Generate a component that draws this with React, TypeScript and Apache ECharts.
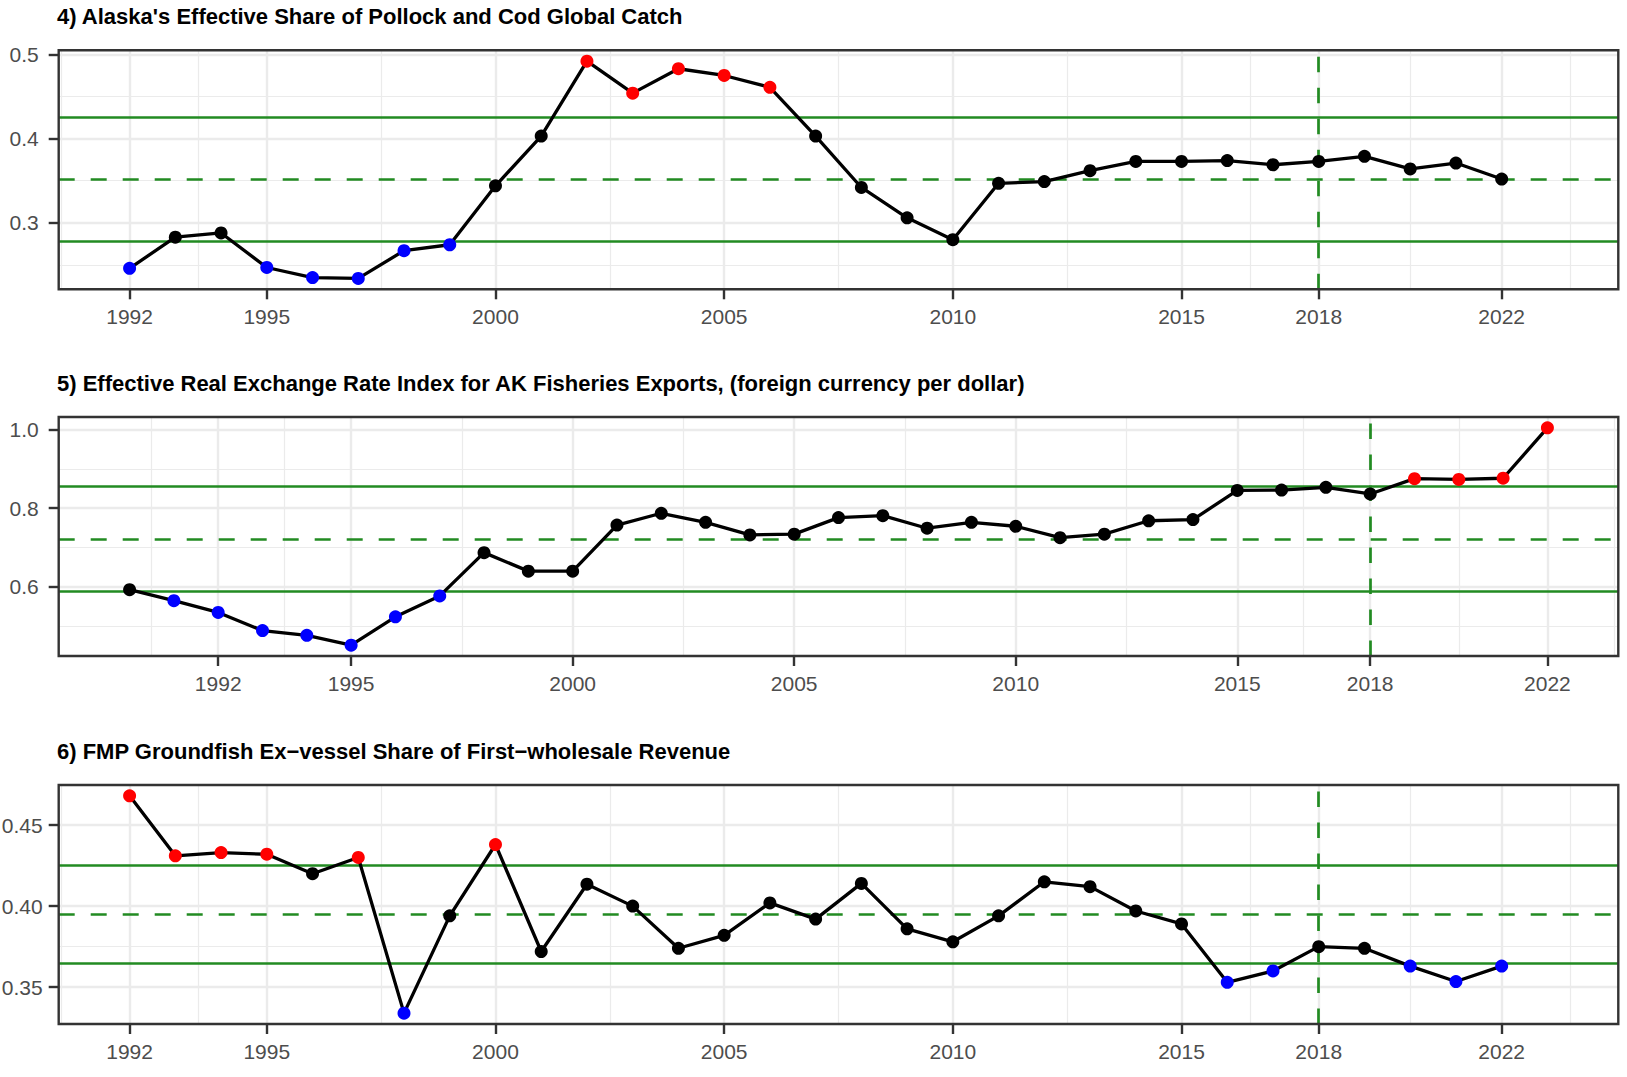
import React, { useEffect, useRef } from "react";
import * as echarts from "echarts";

// ---------------- data ----------------
const yearsA = [1992, 1993, 1994, 1995, 1996, 1997, 1998, 1999, 2000, 2001, 2002, 2003, 2004, 2005, 2006, 2007, 2008, 2009, 2010, 2011, 2012, 2013, 2014, 2015, 2016, 2017, 2018, 2019, 2020, 2021, 2022];
const yearsB = [1990, 1991, 1992, 1993, 1994, 1995, 1996, 1997, 1998, 1999, 2000, 2001, 2002, 2003, 2004, 2005, 2006, 2007, 2008, 2009, 2010, 2011, 2012, 2013, 2014, 2015, 2016, 2017, 2018, 2019, 2020, 2021, 2022];

const alaskaShare = [0.246, 0.283, 0.288, 0.247, 0.235, 0.234, 0.267, 0.274, 0.344, 0.403, 0.492, 0.454, 0.483, 0.475, 0.461, 0.403, 0.342, 0.306, 0.280, 0.347, 0.349, 0.362, 0.373, 0.373, 0.374, 0.369, 0.373, 0.379, 0.364, 0.371, 0.352];
const alaskaShareBands = [0.278, 0.352, 0.425]; // lower, mean, upper

const exchangeRate = [0.593, 0.565, 0.535, 0.489, 0.477, 0.452, 0.524, 0.577, 0.687, 0.640, 0.640, 0.757, 0.787, 0.764, 0.732, 0.734, 0.776, 0.781, 0.749, 0.764, 0.754, 0.725, 0.734, 0.768, 0.771, 0.845, 0.846, 0.853, 0.836, 0.875, 0.873, 0.876, 1.004];
const exchangeRateBands = [0.588, 0.720, 0.855];

const exvesselShare = [0.468, 0.431, 0.433, 0.432, 0.420, 0.430, 0.334, 0.394, 0.438, 0.372, 0.4135, 0.400, 0.374, 0.382, 0.402, 0.392, 0.414, 0.386, 0.378, 0.394, 0.415, 0.412, 0.397, 0.389, 0.353, 0.360, 0.375, 0.374, 0.363, 0.3535, 0.363];
const exvesselShareBands = [0.3645, 0.395, 0.425];

const xTickLabels = [1992, 1995, 2000, 2005, 2010, 2015, 2018, 2022];
const xLimitsA = [1992, 2023];
const xLimitsB = [1990, 2022];
const referenceYear = 2018;

const yTicksA = [0.3, 0.4, 0.5];
const yTicksB = [0.6, 0.8, 1.0];
const yTicksC = [0.35, 0.4, 0.45];

const titles = [
  "4) Alaska's Effective Share of Pollock and Cod Global Catch",
  "5) Effective Real Exchange Rate Index for AK Fisheries Exports, (foreign currency per dollar)",
  "6) FMP Groundfish Ex\u2212vessel Share of First\u2212wholesale Revenue",
];

// ---------------- layout / style ----------------
const W = 1627;
const H = 1077;
const FONT = '"Liberation Sans", Arial, Helvetica, sans-serif';
const GRID_LEFT = 58.7;
const GRID_WIDTH = 1559.6;
const PANEL_TOPS = [50.3, 417, 785];
const PANEL_HEIGHT = 239;
const TITLE_FS = 22;
const TITLE_CENTER_OFFSET = 33.5;
const TICK_FS = 21;
const BORDER = "#333333";
const GRID_COLOR = "#EBEBEB";
const GREEN = "#228B22";

function expand(lo: number, hi: number): [number, number] {
  const r = hi - lo;
  return [lo - 0.05 * r, hi + 0.05 * r];
}

function minorBreaks(major: number[], lo: number, hi: number): number[] {
  const d = major[1] - major[0];
  const b = major.slice();
  if (lo < b[0]) b.unshift(b[0] - d);
  if (hi > b[b.length - 1]) b.push(b[b.length - 1] + d);
  const out: number[] = [];
  for (let i = 0; i < b.length - 1; i++) {
    const m = (b[i] + b[i + 1]) / 2;
    if (m >= lo && m <= hi) out.push(m);
  }
  return out;
}

type Panel = {
  title: string;
  years: number[];
  values: number[];
  bands: number[];
  xLimits: number[];
  yTicks: number[];
  decimals: number;
  labelMargin: number;
};

const panels: Panel[] = [
  { title: titles[0], years: yearsA, values: alaskaShare, bands: alaskaShareBands, xLimits: xLimitsA, yTicks: yTicksA, decimals: 1, labelMargin: 20 },
  { title: titles[1], years: yearsB, values: exchangeRate, bands: exchangeRateBands, xLimits: xLimitsB, yTicks: yTicksB, decimals: 1, labelMargin: 20 },
  { title: titles[2], years: yearsA, values: exvesselShare, bands: exvesselShareBands, xLimits: xLimitsA, yTicks: yTicksC, decimals: 2, labelMargin: 16 },
];

function buildOption() {
  const title: any[] = [];
  const grid: any[] = [];
  const xAxis: any[] = [];
  const yAxis: any[] = [];
  const series: any[] = [];

  panels.forEach((p, i) => {
    const [xMin, xMax] = expand(p.xLimits[0], p.xLimits[1]);
    const [yMin, yMax] = expand(Math.min(...p.values), Math.max(...p.values));
    const xMajor = xTickLabels.filter((v) => v >= xMin && v <= xMax);
    const xMinor = minorBreaks(xTickLabels, xMin, xMax);
    const yMajor = p.yTicks;
    const yMinor = minorBreaks(p.yTicks, yMin, yMax);

    title.push({
      text: p.title,
      left: 57,
      top: PANEL_TOPS[i] - TITLE_CENTER_OFFSET - TITLE_FS / 2,
      padding: 0,
      textStyle: { fontFamily: FONT, fontSize: TITLE_FS, fontWeight: "bold", color: "#000000" },
    });

    grid.push({
      left: GRID_LEFT,
      top: PANEL_TOPS[i],
      width: GRID_WIDTH,
      height: PANEL_HEIGHT,
      show: true,
      borderColor: BORDER,
      borderWidth: 2.4,
      backgroundColor: "transparent",
      z: 10,
      containLabel: false,
      outerBoundsMode: "none",
    });

    xAxis.push({
      type: "value",
      gridIndex: i,
      min: xMin,
      max: xMax,
      axisLine: { show: false },
      axisTick: { show: true, length: 10, lineStyle: { color: BORDER, width: 2.4 }, customValues: xMajor },
      axisLabel: {
        customValues: xMajor,
        formatter: (v: number) => String(v),
        margin: 17,
        fontFamily: FONT,
        fontSize: TICK_FS,
        color: "#4D4D4D",
      },
      splitLine: { show: false },
    });

    yAxis.push({
      type: "value",
      gridIndex: i,
      min: yMin,
      max: yMax,
      axisLine: { show: false },
      axisTick: { show: true, length: 10, lineStyle: { color: BORDER, width: 2.4 }, customValues: yMajor },
      axisLabel: {
        customValues: yMajor,
        formatter: (v: number) => v.toFixed(p.decimals),
        margin: p.labelMargin,
        fontFamily: FONT,
        fontSize: TICK_FS,
        color: "#4D4D4D",
      },
      splitLine: { show: false },
    });

    const gl = (key: string, v: number, w: number) => ({ [key]: v, lineStyle: { color: GRID_COLOR, width: w, type: "solid" } });
    const gridLines = [
      ...xMinor.map((v) => gl("xAxis", v, 1.2)),
      ...yMinor.map((v) => gl("yAxis", v, 1.2)),
      ...xMajor.map((v) => gl("xAxis", v, 2.4)),
      ...yMajor.map((v) => gl("yAxis", v, 2.4)),
    ];

    series.push({
      type: "line",
      xAxisIndex: i,
      yAxisIndex: i,
      data: [],
      z: 1,
      silent: true,
      markLine: {
        z: 1,
        precision: 8,
        silent: true,
        symbol: ["none", "none"],
        label: { show: false },
        emphasis: { disabled: true },
        animation: false,
        data: gridLines,
      },
    });

    const [lower, mean, upper] = p.bands;
    series.push({
      type: "line",
      xAxisIndex: i,
      yAxisIndex: i,
      data: [],
      z: 2,
      silent: true,
      markLine: {
        z: 2,
        precision: 8,
        silent: true,
        symbol: ["none", "none"],
        label: { show: false },
        emphasis: { disabled: true },
        animation: false,
        data: [
          { yAxis: upper, lineStyle: { color: GREEN, width: 2.7, type: "solid" } },
          { yAxis: lower, lineStyle: { color: GREEN, width: 2.7, type: "solid" } },
          { yAxis: mean, lineStyle: { color: GREEN, width: 2.7, type: [16, 16] } },
          { xAxis: referenceYear, lineStyle: { color: GREEN, width: 2.7, type: [15.5, 15.5] } },
        ],
      },
    });

    const pts = p.years.map((y, k) => [y, p.values[k]]);
    series.push({
      type: "line",
      xAxisIndex: i,
      yAxisIndex: i,
      data: pts,
      z: 3,
      symbol: "none",
      silent: true,
      lineStyle: { color: "#000000", width: 3.3 },
    });

    series.push({
      type: "scatter",
      xAxisIndex: i,
      yAxisIndex: i,
      z: 4,
      silent: true,
      symbol: "circle",
      symbolSize: 13,
      data: p.years.map((y, k) => {
        const v = p.values[k];
        const color = v > upper ? "#FF0000" : v < lower ? "#0000FF" : "#000000";
        return { value: [y, v], itemStyle: { color, opacity: 1 } };
      }),
    });
  });

  return {
    animation: false,
    backgroundColor: "#FFFFFF",
    title,
    grid,
    xAxis,
    yAxis,
    series,
  };
}

export default function App() {
  const ref = useRef<HTMLDivElement>(null);
  useEffect(() => {
    if (!ref.current) return;
    const chart = echarts.init(ref.current, null, { renderer: "svg", width: W, height: H });
    chart.setOption(buildOption() as any);
    return () => chart.dispose();
  }, []);
  return (
    <div
      ref={ref}
      style={{ position: "absolute", left: 0, top: 0, width: W, height: H, background: "#FFFFFF" }}
    />
  );
}
